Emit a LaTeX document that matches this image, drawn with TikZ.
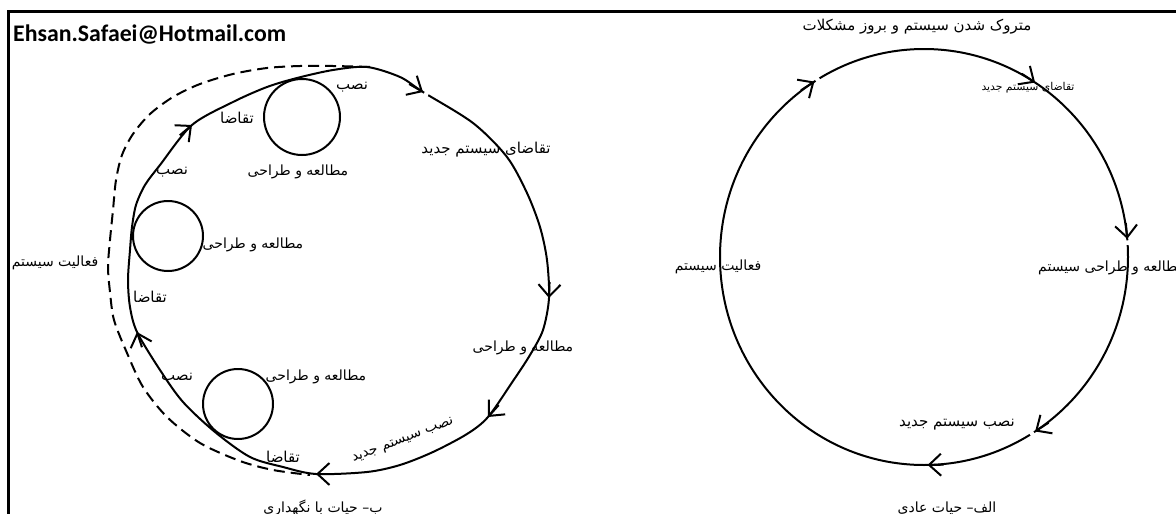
\documentclass[tikz,border=0pt]{standalone}
\usepackage{fontspec}
\setmainfont{Liberation Serif}
\newfontfamily\prsfont[Script=Arabic]{DejaVu Sans}
\newfontfamily\mailfont{Carlito}
\TeXXeTstate=1
\usetikzlibrary{arrows.meta}
\newcommand\prs[1]{{\prsfont\beginR #1\endR}}
\newcommand\barbat[2]{\draw[barbhead] (#1) ++(#2+180:16) -- (#1);}
\newcommand\gapat[2]{\draw[gapline] (#1) ++(#2:1.5) -- ++(#2:4.5);}
\begin{document}
\begin{tikzpicture}[x=1pt,y=1pt,
  curve/.style={line width=2pt},
  dashcurve/.style={line width=2pt, dash pattern=on 11pt off 6pt},
  barbhead/.style={line width=2pt, -{Straight Barb[length=12pt,width=22pt]}},
  gapline/.style={white,line width=6pt},
  lbl/.style={font=\fontsize{14}{16}\selectfont, inner sep=0pt},
  biglbl/.style={font=\fontsize{15}{17}\selectfont, inner sep=0pt},
  smalllbl/.style={font=\fontsize{10.8}{12}\selectfont, inner sep=0pt},
  mail/.style={font=\mailfont\bfseries\fontsize{23.8}{27}\selectfont, inner sep=0pt, anchor=west},
]
\useasboundingbox (0,0) rectangle (1176,-514);
\fill[white] (0,0) rectangle (1176,-514);
% frame
\coordinate (fbl) at (8.5,-514);
\coordinate (ftl) at (8.5,-11.5);
\coordinate (ftr) at (1176,-11.5);
\draw[line width=2.5pt] (fbl) -- (ftl) -- (ftr);
\node[mail] (email) at (13,-35) {Ehsan.Safaei@Hotmail.com};

% ---------- left diagram ----------
\coordinate (lt) at (423,-92);
\coordinate (lr) at (549,-298);
\coordinate (llr) at (488,-417);
\coordinate (lb) at (316,-474);
\coordinate (ll) at (137,-332);
\coordinate (ltl) at (192,-125);
\draw[curve] plot[smooth cycle] coordinates {
 (367,-67) (400,-77) (lt) (473,-123) (507,-157) (527,-193) (540,-227) (547,-260)
 (lr) (543,-330) (530,-355) (513,-381) (llr) (467,-434) (433,-452) (400,-465)
 (367,-472) (lb) (283,-467) (250,-457) (215,-432) (183,-402) (160,-370) (ll)
 (130,-307) (128,-280) (130,-250) (132,-227) (136,-205) (145,-185) (160,-165)
 (ltl) (233,-102) (267,-87) (297,-78) (333,-70)};
\draw[dashcurve] plot[smooth] coordinates {
 (370,-67) (333,-66) (300,-66) (267,-68) (233,-74) (200,-84) (173,-97) (150,-114)
 (133,-134) (122,-155) (116,-180) (113,-210) (110,-240) (108,-267) (110,-292)
 (114,-320) (127,-353) (143,-387) (167,-417) (200,-443) (240,-461) (273,-470) (310,-475)};
\coordinate (c1) at (302,-117);
\coordinate (c2) at (168,-236);
\coordinate (c3) at (238,-404);
\draw[curve] (c1) circle (38);
\draw[curve] (c2) circle (35);
\draw[curve] (c3) circle (35);
\gapat{lt}{-30}
\barbat{lt}{-30}
\barbat{lr}{-92}
\barbat{llr}{228}
\barbat{lb}{180}
\barbat{ll}{108}
\barbat{ltl}{40}

\node[biglbl] (l1) at (352,-87) {\prs{نصب}};
\node[biglbl] (l2) at (237,-118) {\prs{تقاضا}};
\node[lbl] (l3) at (298,-172) {\prs{مطالعه و طراحی}};
\node[biglbl] (l4) at (172,-172) {\prs{نصب}};
\node[lbl] (l5) at (253,-245) {\prs{مطالعه و طراحی}};
\node[lbl] (l6) at (55,-263) {\prs{فعالیت سیستم}};
\node[biglbl] (l7) at (150,-297) {\prs{تقاضا}};
\node[biglbl] (l8) at (177,-378) {\prs{نصب}};
\node[lbl] (l9) at (316,-377) {\prs{مطالعه و طراحی}};
\node[biglbl] (l10) at (283,-457) {\prs{تقاضا}};
\node[lbl,rotate=21] (l11) at (403,-441) {\prs{نصب سیستم جدید}};
\node[lbl] (l12) at (523,-348) {\prs{مطالعه و طراحی}};
\node[biglbl] (l13) at (486,-150) {\prs{تقاضای سیستم جدید}};
\node[lbl] (l14) at (323,-508) {\prs{ب– حیات با نگهداری}};

% ---------- right diagram ----------
\coordinate (rc) at (924,-257);
\path (rc) ++(122.5:204 and 208) coordinate (ra);
\path (rc) ++(57:204 and 208) coordinate (rb);
\path (rc) ++(5:204 and 208) coordinate (rd);
\path (rc) ++(-57:204 and 208) coordinate (re);
\path (rc) ++(-89:204 and 208) coordinate (rf);
\draw[curve] (rc) ellipse [x radius=204, y radius=208];
\gapat{ra}{33}
\gapat{rd}{-85}
\gapat{re}{213}
\barbat{ra}{33}
\barbat{rb}{-33.5}
\barbat{rd}{-85}
\barbat{re}{213}
\barbat{rf}{181}

\node[biglbl] (r1) at (917,-27) {\prs{متروک شدن سیستم و بروز مشکلات}};
\node[smalllbl] (r2) at (1028,-88) {\prs{تقاضای سیستم جدید}};
\node[lbl,anchor=west] (r3) at (1038,-268) {\prs{مطالعه و طراحی سیستم}};
\node[lbl] (r4) at (718,-267) {\prs{فعالیت سیستم}};
\node[biglbl] (r5) at (957,-425) {\prs{نصب سیستم جدید}};
\node[lbl] (r6) at (947,-508) {\prs{الف– حیات عادی}};
\end{tikzpicture}
\end{document}
